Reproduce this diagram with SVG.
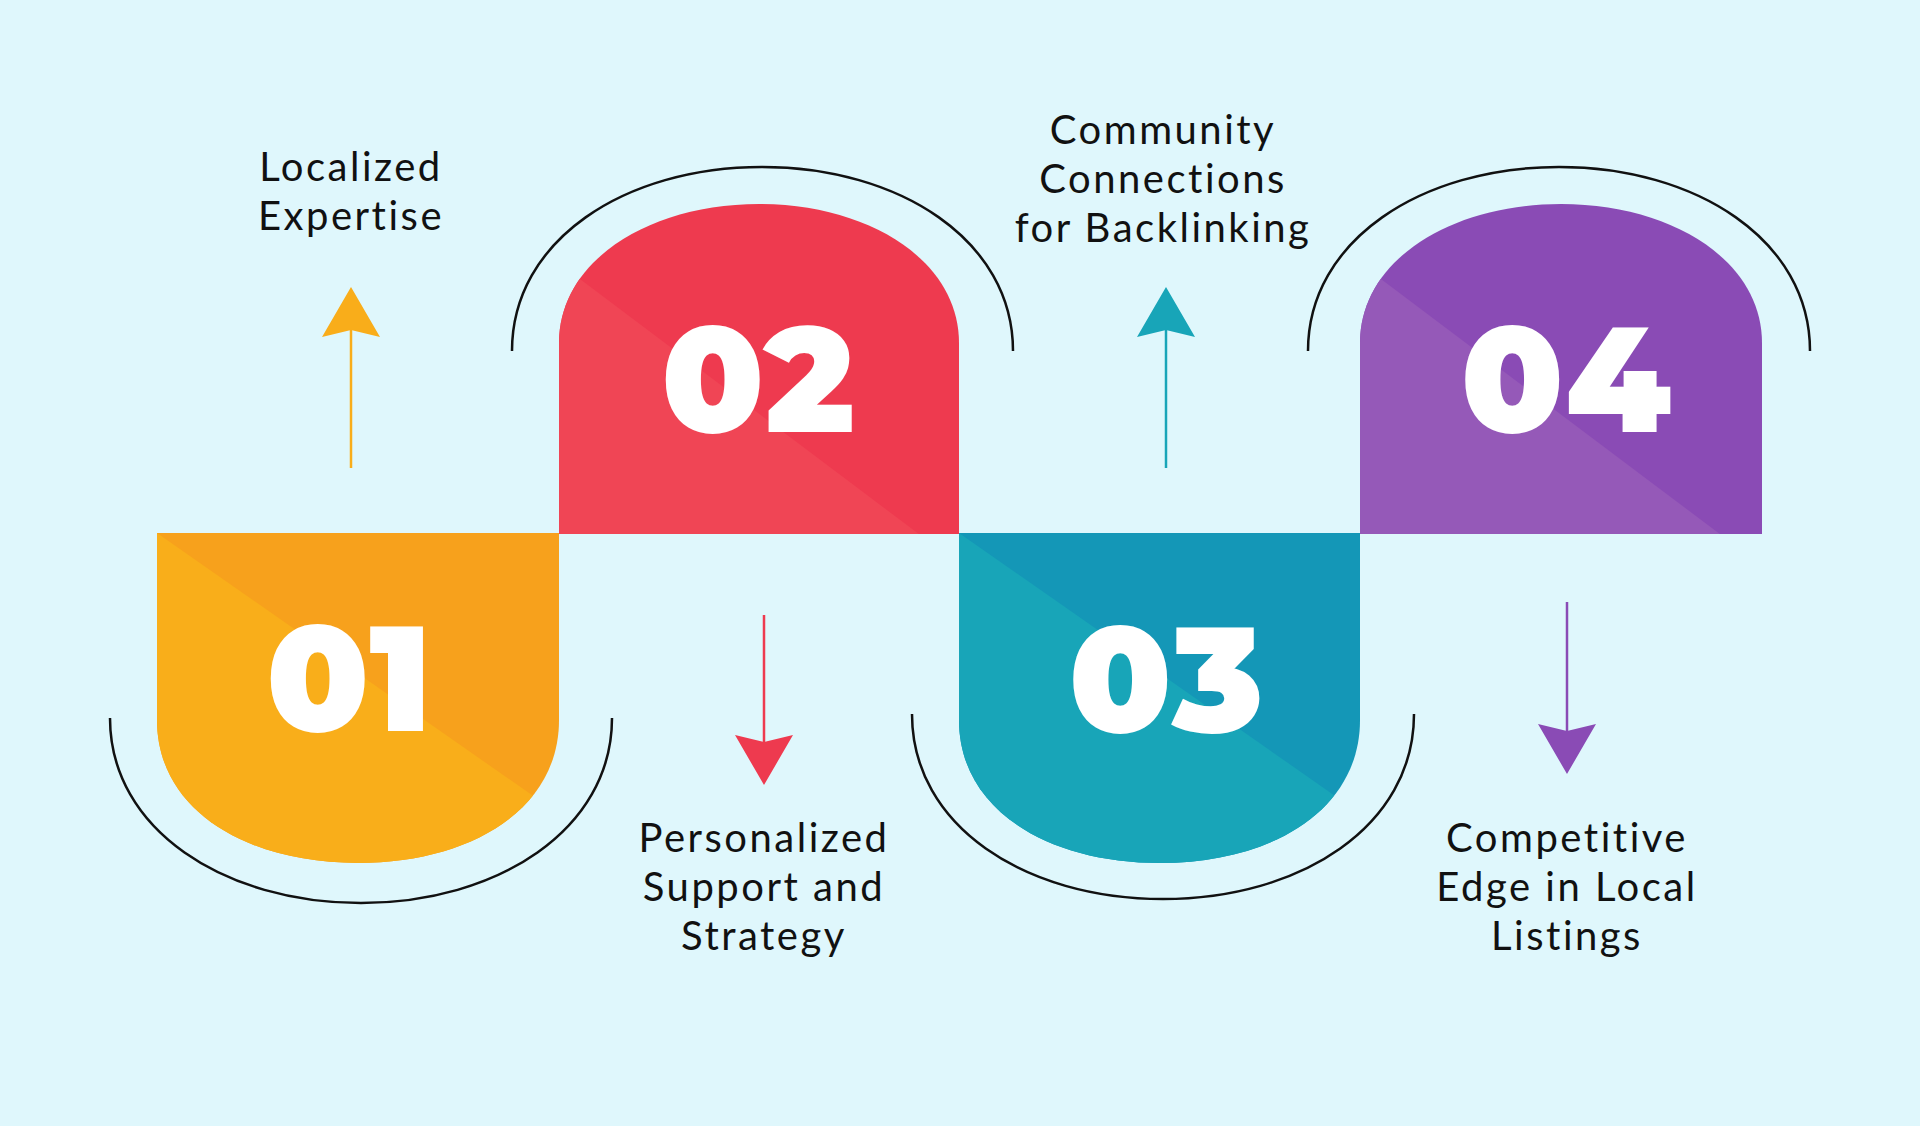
<svg xmlns="http://www.w3.org/2000/svg" width="1920" height="1126" viewBox="0 0 1920 1126">
<style>
.num{font-family:"Montserrat","Poppins","Liberation Sans",sans-serif;font-weight:900;font-size:148px;fill:#fff;text-anchor:middle;letter-spacing:2px}
.lbl{font-family:"Lato","Open Sans",sans-serif;font-size:40px;fill:#111;text-anchor:middle;letter-spacing:2.5px}
.arc{fill:none;stroke:#111;stroke-width:2.5}
</style>
<defs>
<path id="b1" d="M157,533 H559 V720 C559,810 470,863 358,863 C246,863 157,810 157,720 Z"/>
<path id="b2" d="M559,534 V343 C559,260 650,204 759,204 C868,204 959,260 959,343 V534 Z"/>
<path id="b3" d="M959,533 H1360 V720 C1360,810 1272,863 1160,863 C1048,863 959,810 959,720 Z"/>
<path id="b4" d="M1360,534 V343 C1360,260 1451,204 1561,204 C1671,204 1762,260 1762,343 V534 Z"/>
<clipPath id="c1"><use href="#b1"/></clipPath>
<clipPath id="c2"><use href="#b2"/></clipPath>
<clipPath id="c3"><use href="#b3"/></clipPath>
<clipPath id="c4"><use href="#b4"/></clipPath>
</defs>
<rect width="1920" height="1126" fill="#dff7fc"/>
<g id="node1">
<use href="#b1" fill="#f7a11c"/>
<polygon clip-path="url(#c1)" points="157,533 559,814 559,900 157,900" fill="#f9ae1a"/>
<text class="num" x="350" y="731">01</text>
<path class="arc" d="M110,718 C110,830 225,903 361,903 C497,903 612,830 612,718"/>
</g>
<g id="node2">
<use href="#b2" fill="#ee3a4f"/>
<polygon clip-path="url(#c2)" points="520,234 980,580 520,580" fill="#f04555"/>
<text class="num" x="759" y="432">02</text>
<path class="arc" d="M512,351 C512,240 625,167 762,167 C899,167 1013,240 1013,351"/>
</g>
<g id="node3">
<use href="#b3" fill="#1497b7"/>
<polygon clip-path="url(#c3)" points="959,533 1361,814 1361,900 959,900" fill="#18a5b8"/>
<text class="num" x="1167" y="732">03</text>
<path class="arc" d="M912,714 C912,826 1025,899 1163,899 C1301,899 1414,826 1414,714"/>
</g>
<g id="node4">
<use href="#b4" fill="#8a4bb5"/>
<polygon clip-path="url(#c4)" points="1321,234 1781,580 1321,580" fill="#9559b8"/>
<text class="num" x="1567" y="432">04</text>
<path class="arc" d="M1308,351 C1308,240 1422,167 1559,167 C1696,167 1810,240 1810,351"/>
</g>
<g id="connectors">
<line x1="351" y1="468" x2="351" y2="320" stroke="#f9ad1a" stroke-width="2.5"/>
<polygon points="351,287 380,337 351,330 322,337" fill="#f9ad1a"/>
<line x1="764" y1="615" x2="764" y2="750" stroke="#ee3a4f" stroke-width="2.5"/>
<polygon points="764,785 735,735 764,742 793,735" fill="#ee3a4f"/>
<line x1="1166" y1="468" x2="1166" y2="320" stroke="#18a5b8" stroke-width="2.5"/>
<polygon points="1166,287 1195,337 1166,330 1137,337" fill="#18a5b8"/>
<line x1="1567" y1="602" x2="1567" y2="740" stroke="#8a4bb5" stroke-width="2.5"/>
<polygon points="1567,774 1538,724 1567,731 1596,724" fill="#8a4bb5"/>
</g>
<g id="labels">
<text class="lbl" x="351" y="181">Localized</text>
<text class="lbl" x="351" y="230">Expertise</text>
<text class="lbl" x="1163" y="144">Community</text>
<text class="lbl" x="1163" y="193">Connections</text>
<text class="lbl" x="1163" y="242">for Backlinking</text>
<text class="lbl" x="764" y="852">Personalized</text>
<text class="lbl" x="764" y="901">Support and</text>
<text class="lbl" x="764" y="950">Strategy</text>
<text class="lbl" x="1567" y="852">Competitive</text>
<text class="lbl" x="1567" y="901">Edge in Local</text>
<text class="lbl" x="1567" y="950">Listings</text>
</g>
</svg>
